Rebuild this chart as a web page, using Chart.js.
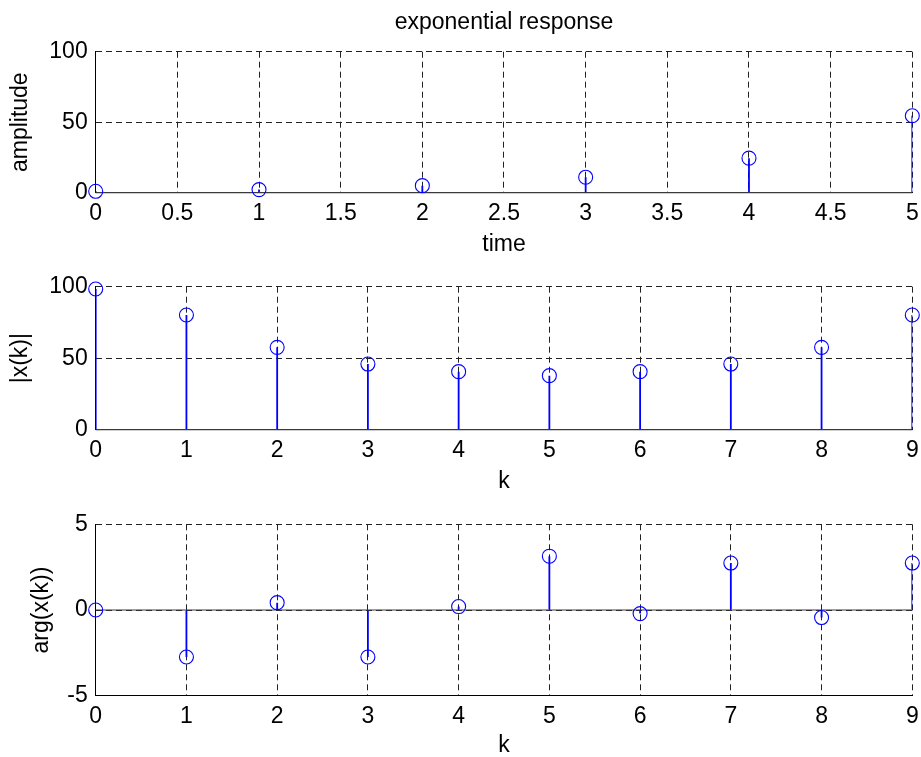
<!DOCTYPE html>
<html>
<head>
<meta charset="utf-8">
<script src="https://cdn.jsdelivr.net/npm/chart.js@4.4.1/dist/chart.umd.min.js"></script>
<style>
  html, body { margin: 0; padding: 0; background: #fff; }
  #wrap { position: relative; width: 921px; height: 757px; }
  #wrap canvas { position: absolute; left: 0; top: 0; }
</style>
</head>
<body>
<div id="wrap">
  <canvas id="c-exp" width="921" height="757"></canvas>
  <canvas id="c-mag" width="921" height="757"></canvas>
  <canvas id="c-arg" width="921" height="757"></canvas>
</div>
<script>
// exponential response sampled at t = 0..5
const timeSamples = [0, 1, 2, 3, 4, 5];
const amplitude = [1.0, 2.2, 5.0, 11.0, 24.5, 54.6];
const timeTicks = [0, 0.5, 1, 1.5, 2, 2.5, 3, 3.5, 4, 4.5, 5];
const ampTicks = [0, 50, 100];

// 10-point DFT: magnitude and phase per bin
const kSamples = [0, 1, 2, 3, 4, 5, 6, 7, 8, 9];
const magnitude = [98.4, 80.2, 57.6, 45.9, 40.6, 37.8, 40.6, 45.9, 57.6, 80.2];
const phase = [0, -2.74, 0.43, -2.74, 0.2, 3.14, -0.21, 2.74, -0.44, 2.74];
const kTicks = [0, 1, 2, 3, 4, 5, 6, 7, 8, 9];
const magTicks = [0, 50, 100];
const phaseTicks = [-5, 0, 5];

const FONT = { family: '"Liberation Sans", Arial, Helvetica, sans-serif', size: 23, lineHeight: 1, weight: 'normal' };
const BLUE = '#0000ff';
const W = 921, H = 757;
const PLOT_LEFT = 95.7, PLOT_RIGHT = 912.3;

function fixedTicks(values) {
  return scale => { scale.ticks = values.map(v => ({ value: v })); };
}

function axis(min, max, ticks, title) {
  return {
    type: 'linear',
    min, max,
    offset: false,
    afterBuildTicks: fixedTicks(ticks),
    ticks: { color: '#000', font: FONT, autoSkip: false, maxRotation: 0, callback: v => String(v) },
    grid: { color: '#222', lineWidth: 1, drawTicks: false, offset: false },
    border: { display: true, color: '#000', width: 1, dash: [6, 4] },
    title: { display: true, text: title, color: '#000', font: FONT }
  };
}

// the plot box is placed by layout.padding alone, so drop the label overflow padding
function noOverflow(s) {
  s.paddingLeft = s.paddingRight = s.paddingTop = s.paddingBottom = 0;
}

// MATLAB-style stem plot: baseline, thin stems (bars) and open circles
function stemChart(id, o) {
  const pts = o.xs.map((x, i) => ({ x, y: o.ys[i] }));
  const x = axis(o.xMin, o.xMax, o.xTicks, o.xTitle);
  x.ticks.padding = 9;
  x.title.padding = { top: 0, bottom: o.xTitlePad };
  x.afterFit = s => { s.height = o.xHeight; noOverflow(s); };

  const y = axis(o.yMin, o.yMax, o.yTicks, o.yTitle);
  y.ticks.padding = 8;
  y.title.padding = { top: o.yTitlePad, bottom: 0 };
  y.afterFit = s => { s.width = PLOT_LEFT; noOverflow(s); };

  return new Chart(document.getElementById(id), {
    type: 'scatter',
    data: {
      datasets: [
        {
          type: 'line',
          data: [{ x: o.xMin, y: 0 }, { x: o.xMax, y: 0 }],
          borderColor: '#3a3a3a',
          borderWidth: 1.2,
          pointRadius: 0,
          clip: false,
          order: 3
        },
        {
          type: 'bar',
          data: pts,
          backgroundColor: BLUE,
          borderWidth: 0,
          barThickness: 1.8,
          inflateAmount: 0,
          order: 2
        },
        {
          type: 'scatter',
          data: pts,
          pointRadius: 7,
          pointBorderColor: BLUE,
          pointBackgroundColor: 'rgba(0,0,0,0)',
          pointBorderWidth: 1.1,
          clip: false,
          order: 1
        }
      ]
    },
    options: {
      responsive: false,
      animation: false,
      events: [],
      layout: {
        autoPadding: false,
        padding: { top: o.padTop, bottom: H - o.plotBottom - o.xHeight, left: 0, right: W - PLOT_RIGHT }
      },
      plugins: {
        legend: { display: false },
        tooltip: { enabled: false },
        title: o.title
          ? { display: true, text: o.title, color: '#000', font: FONT, fullSize: false, padding: { top: 11, bottom: 17.7 } }
          : { display: false }
      },
      scales: { x, y }
    }
  });
}

stemChart('c-exp', {
  xs: timeSamples, ys: amplitude,
  xMin: 0, xMax: 5, xTicks: timeTicks, xTitle: 'time',
  yMin: 0, yMax: 100, yTicks: ampTicks, yTitle: 'amplitude',
  title: 'exponential response',
  padTop: 0, plotBottom: 192.7, xHeight: 63, xTitlePad: 0, yTitlePad: 9.5
});

stemChart('c-mag', {
  xs: kSamples, ys: magnitude,
  xMin: 0, xMax: 9, xTicks: kTicks, xTitle: 'k',
  yMin: 0, yMax: 100, yTicks: magTicks, yTitle: '|x(k)|',
  padTop: 286.7, plotBottom: 429.7, xHeight: 63, xTitlePad: 0, yTitlePad: 9
});

stemChart('c-arg', {
  xs: kSamples, ys: phase,
  xMin: 0, xMax: 9, xTicks: kTicks, xTitle: 'k',
  yMin: -5, yMax: 5, yTicks: phaseTicks, yTitle: 'arg(x(k))',
  padTop: 524.3, plotBottom: 695.7, xHeight: 61.3, xTitlePad: 0, yTitlePad: 30.5
});
</script>
</body>
</html>
